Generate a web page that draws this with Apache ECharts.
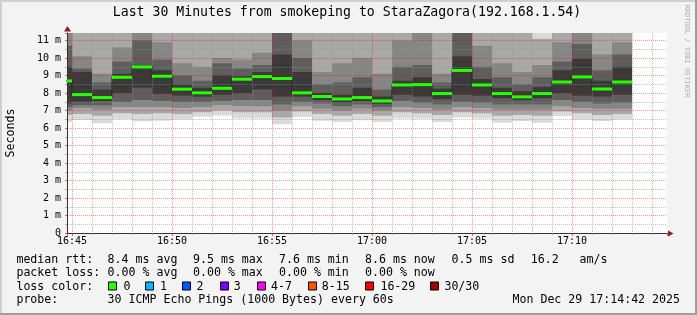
<!DOCTYPE html>
<html><head><meta charset="utf-8">
<script src="https://cdn.jsdelivr.net/npm/echarts@6/dist/echarts.min.js"></script>
<style>html,body{margin:0;padding:0;background:#f3f3f3;}#c{width:697px;height:315px;}</style>
</head><body><div id="c"></div>
<script>
// ---------- data ----------
const titleText = 'Last 30 Minutes from smokeping to StaraZagora(192.168.1.54)';
const viewStart = '16:44:45';
const viewEnd = '17:14:45';
const intervalStart = ['16:44','16:45','16:46','16:47','16:48','16:49','16:50','16:51','16:52','16:53',
  '16:54','16:55','16:56','16:57','16:58','16:59','17:00','17:01','17:02','17:03',
  '17:04','17:05','17:06','17:07','17:08','17:09','17:10','17:11','17:12'];
const yMaxMs = 11.43;
// median rtt (ms)
const medianMs = [8.69,7.91,7.74,8.90,9.49,8.96,8.22,8.01,8.27,8.79,8.94,8.83,8.01,7.80,7.66,7.74,7.55,8.46,8.48,7.97,9.29,8.46,7.97,7.78,7.97,8.63,8.92,8.23,8.63];
// smoke band boundaries (ms), outer -> inner below the median
const smokeLo1 = [6.35,6.46,6.27,6.5,6.38,6.42,6.48,6.65,6.72,6.55,6.55,6.22,6.63,6.42,6.35,6.45,6.35,6.55,6.55,6.35,6.6,6.55,6.3,6.4,6.3,6.68,6.48,6.4,6.48];
const smokeLo2 = [6.75,6.8,6.7,6.85,6.8,6.85,6.8,6.9,7.0,6.9,6.9,6.6,6.95,6.8,6.7,6.8,6.7,6.9,6.85,6.75,6.9,6.85,6.7,6.75,6.7,6.95,6.85,6.75,6.8];
const smokeLo3 = [7.0,7.13,7.05,7.2,7.2,7.2,7.15,7.2,7.3,7.25,7.25,7.0,7.25,7.1,7.0,7.1,7.0,7.2,7.15,7.05,7.2,7.15,7.05,7.05,7.05,7.25,7.15,7.1,7.1];
const smokeLo4 = [7.2,7.3,7.3,7.5,7.6,7.55,7.5,7.5,7.55,7.6,7.6,7.35,7.5,7.4,7.25,7.35,7.2,7.55,7.45,7.35,7.5,7.45,7.35,7.35,7.35,7.6,7.5,7.4,7.45];
const smokeLo5 = [7.4,7.5,7.55,8.0,8.3,7.95,7.85,7.8,7.9,8.0,8.2,7.8,7.8,7.6,7.45,7.55,7.38,7.9,7.8,7.65,7.9,7.85,7.7,7.6,7.7,8.0,7.85,7.8,7.9];
// smoke band boundaries (ms), inner -> outer above the median
const smokeHi5 = [9.5,9.2,8.2,9.1,9.6,9.3,8.5,8.3,9.0,8.95,9.2,10.2,9.2,8.0,7.9,8.3,7.8,8.7,8.9,8.25,10.1,8.8,8.3,8.1,8.35,9.3,9.95,8.7,9.5];
const smokeHi4 = [10.7,9.4,8.6,9.8,11.0,9.9,9.0,8.7,9.7,9.4,9.6,12,10.0,8.5,8.6,8.9,8.2,9.5,9.6,8.6,12,9.5,8.9,8.5,8.9,9.8,10.8,9.3,10.2];
const smokeHi3 = [12,10.1,9.1,10.6,12,10.9,9.7,9.5,10.0,9.9,10.3,12.5,11.0,9.2,9.7,10.0,9.1,11.0,12,9.1,12.5,10.7,9.7,9.2,9.6,10.9,12,10.2,10.9];
const smokeHi2 = [12.5,12,12,12,12.5,12,12,12,12,12,12,13,12,12,12,12,12,12,12.5,12,13,12,12,12,11.1,12,12.5,12,12];
const smokeHi1 = [13,13,13,13,13,13,13,13,13,13,13,13.5,13,13,13,13,13,13,13,13,13.5,13,13,13,12,13,13,13,13];
// legend texts
const rttLabel = 'median rtt:';
const rttStats = ['8.4 ms avg','9.5 ms max','7.6 ms min','8.6 ms now','0.5 ms sd','16.2   am/s'];
const lossLabel = 'packet loss:';
const lossStats = ['0.00 % avg','0.00 % max','0.00 % min','0.00 % now'];
const lossColorLabel = 'loss color:';
const lossLabels = ['0','1','2','3','4-7','8-15','16-29','30/30'];
const lossColors = ['#26ff00','#00b8ff','#0059ff','#7e00ff','#ff00ff','#ff5500','#ff0000','#a10000'];
const probeLabel = 'probe:';
const probeText = '30 ICMP Echo Pings (1000 Bytes) every 60s';
const stampText = 'Mon Dec 29 17:14:42 2025';
const watermark = 'RRDTOOL / TOBI OETIKER';

// ---------- helpers / styles ----------
const FONT = 'DejaVu Sans Mono';
const SMOKE_COLORS = ['#dadada','#a8a8a8','#868686','#5e5e5e','#3a3a3a'];
const toMin = s => { const p = s.split(':').map(Number); return p[0]*60 + p[1] + (p[2]||0)/60; };
const fmtTime = v => { const h = Math.floor(v/60), m = Math.round(v - h*60); return (h<10?'0':'')+h+':'+(m<10?'0':'')+m; };
const xMin = toMin(viewStart), xMax = toMin(viewEnd);

const smokeData = intervalStart.map((t,i) => {
  const s = toMin(t);
  return [s, s+1, smokeLo1[i], smokeLo2[i], smokeLo3[i], smokeLo4[i], smokeLo5[i],
          smokeHi5[i], smokeHi4[i], smokeHi3[i], smokeHi2[i], smokeHi1[i]];
});
const medData = intervalStart.map((t,i) => { const s = toMin(t); return [s, s+1, medianMs[i]]; });
const stepLine = [];
medData.forEach(d => { stepLine.push([d[0], d[2]]); stepLine.push([d[1], d[2]]); });

function clip(shape, cs) {
  return echarts.graphic.clipRectByRect(shape, {x: cs.x, y: cs.y, width: cs.width, height: cs.height});
}
function renderSmoke(params, api) {
  const cs = params.coordSys;
  const x0 = api.coord([api.value(0), 0])[0];
  const x1 = api.coord([api.value(1), 0])[0];
  const children = [];
  for (let b = 0; b < 5; b++) {
    const yLo = api.coord([api.value(0), api.value(2 + b)])[1];
    const yHi = api.coord([api.value(0), api.value(11 - b)])[1];
    const shape = clip({x: x0, y: yHi, width: x1 - x0, height: yLo - yHi}, cs);
    if (shape) children.push({type: 'rect', shape: shape, style: {fill: SMOKE_COLORS[b]}});
  }
  return {type: 'group', children: children};
}
function renderMedian(params, api) {
  const cs = params.coordSys;
  const x0 = api.coord([api.value(0), api.value(2)])[0];
  const x1 = api.coord([api.value(1), api.value(2)])[0];
  const y = api.coord([api.value(0), api.value(2)])[1];
  const shape = clip({x: x0, y: y - 1.5, width: x1 - x0, height: 3}, cs);
  return shape ? {type: 'rect', shape: shape, style: {fill: lossColors[0]}} : null;
}

const gridRed = 'rgba(243,0,0,0.42)';
const gridGrey = 'rgba(143,143,143,0.55)';

// ---------- graphic (frame, title, legend) ----------
const ROW_Y = [259.5, 273, 286.5, 300];
const STAT_X = [107.6, 193, 279, 365, 451.6, 530.7];
const BOX_X = [108.4, 145, 182.2, 219.6, 256.9, 307.6, 365.3, 430.2];
const BOX_LABEL_X = [123.6, 160, 196.4, 233.8, 271.1, 321.8, 380.4, 444.4];
function txt(text, x, y, opts) {
  opts = opts || {};
  return {type: 'text', x: x, y: y, rotation: opts.rotation || 0, silent: true, z: 10,
    style: {text: text, fill: opts.fill || '#000', fontFamily: FONT, fontSize: opts.size || 11.6,
      textAlign: opts.align || 'left', align: opts.align || 'left',
      textVerticalAlign: 'middle', verticalAlign: 'middle'}};
}
const graphics = [
  {type:'rect', shape:{x:0,y:0,width:697,height:2}, style:{fill:'#cfcfcf'}, silent:true},
  {type:'rect', shape:{x:0,y:0,width:2,height:315}, style:{fill:'#cfcfcf'}, silent:true},
  {type:'rect', shape:{x:695,y:0,width:2,height:315}, style:{fill:'#9e9e9e'}, silent:true},
  {type:'rect', shape:{x:0,y:313,width:697,height:2}, style:{fill:'#9e9e9e'}, silent:true},
  {type:'polygon', shape:{points:[[64,31.5],[67.5,26],[71,31.5]]}, style:{fill:'#8c1c1c'}, silent:true, z:10},
  {type:'polygon', shape:{points:[[668,230.5],[673.5,233.5],[668,236.5]]}, style:{fill:'#8c1c1c'}, silent:true, z:10},
  txt(titleText, 347, 13, {align:'center', size:13.2}),
  txt(watermark, 687, 51, {align:'center', size:7, fill:'#b0b0b0', rotation:-Math.PI/2}),
  txt(rttLabel, 16.4, ROW_Y[0]),
  txt(lossLabel, 16.4, ROW_Y[1]),
  txt(lossColorLabel, 16.4, ROW_Y[2]),
  txt(probeLabel, 16.4, ROW_Y[3]),
  txt(probeText, STAT_X[0], ROW_Y[3]),
  txt(stampText, 680, ROW_Y[3], {align:'right'})
];
rttStats.forEach((s,i) => graphics.push(txt(s, STAT_X[i], ROW_Y[0])));
lossStats.forEach((s,i) => graphics.push(txt(s, STAT_X[i], ROW_Y[1])));
lossLabels.forEach((s,i) => {
  graphics.push({type:'rect', shape:{x:Math.round(BOX_X[i])+0.5, y:ROW_Y[2]-4.5, width:8, height:8},
    style:{fill:lossColors[i], stroke:'#000', lineWidth:1}, silent:true, z:10});
  graphics.push(txt(s, BOX_LABEL_X[i], ROW_Y[2]));
});

// ---------- chart ----------
const chart = echarts.init(document.getElementById('c'), null, {renderer:'canvas'});
chart.setOption({
  animation: false,
  backgroundColor: '#f3f3f3',
  textStyle: {fontFamily: FONT},
  grid: {left: 67, right: 30, top: 33, bottom: 82, show: true, backgroundColor: '#ffffff', borderWidth: 0, outerBoundsMode: 'none'},
  xAxis: {
    type: 'value', min: xMin, max: xMax, splitNumber: 6, z: 3,
    axisLine: {show: true, onZero: false, lineStyle: {color: '#333', width: 1}},
    axisTick: {show: true, length: 3, lineStyle: {color: 'rgba(243,0,0,0.6)'}},
    minorTick: {show: true, splitNumber: 5, length: 2, lineStyle: {color: 'rgba(143,143,143,0.7)'}},
    axisLabel: {showMinLabel: false, showMaxLabel: false, margin: 3, fontSize: 10, color: '#000', fontFamily: FONT, formatter: fmtTime},
    splitLine: {show: true, showMinLine: false, showMaxLine: false, lineStyle: {color: gridRed, width: 1, type: [1,1]}},
    minorSplitLine: {show: true, lineStyle: {color: gridGrey, width: 1, type: [1,1]}}
  },
  yAxis: {
    type: 'value', min: 0, max: yMaxMs, interval: 1, z: 3,
    name: 'Seconds', nameLocation: 'middle', nameGap: 50, nameRotate: 90,
    nameTextStyle: {fontSize: 11.6, fontFamily: FONT, color: '#000'},
    axisLine: {show: true, lineStyle: {color: '#333', width: 1}},
    axisTick: {show: true, length: 2, lineStyle: {color: 'rgba(243,0,0,0.6)'}},
    minorTick: {show: true, splitNumber: 2, length: 2, lineStyle: {color: 'rgba(143,143,143,0.7)'}},
    axisLabel: {showMaxLabel: false, margin: 6, fontSize: 10, color: '#000', fontFamily: FONT,
      formatter: v => v === 0 ? '0' : v + ' m'},
    splitLine: {show: true, showMinLine: false, showMaxLine: false, lineStyle: {color: gridRed, width: 1, type: [1,1]}},
    minorSplitLine: {show: true, lineStyle: {color: gridGrey, width: 1, type: [1,1]}}
  },
  series: [
    {type: 'custom', name: 'smoke', renderItem: renderSmoke, data: smokeData, z: 1,
      encode: {x: [0,1], y: [2,3,4,5,6,7,8,9,10,11]}, silent: true},
    {type: 'line', name: 'median', data: stepLine, showSymbol: false, symbol: 'none', z: 4,
      lineStyle: {color: '#202020', width: 1}, clip: true, silent: true},
    {type: 'custom', name: 'median loss', renderItem: renderMedian, data: medData, z: 5,
      encode: {x: [0,1], y: 2}, silent: true}
  ],
  graphic: graphics
});
</script></body></html>
